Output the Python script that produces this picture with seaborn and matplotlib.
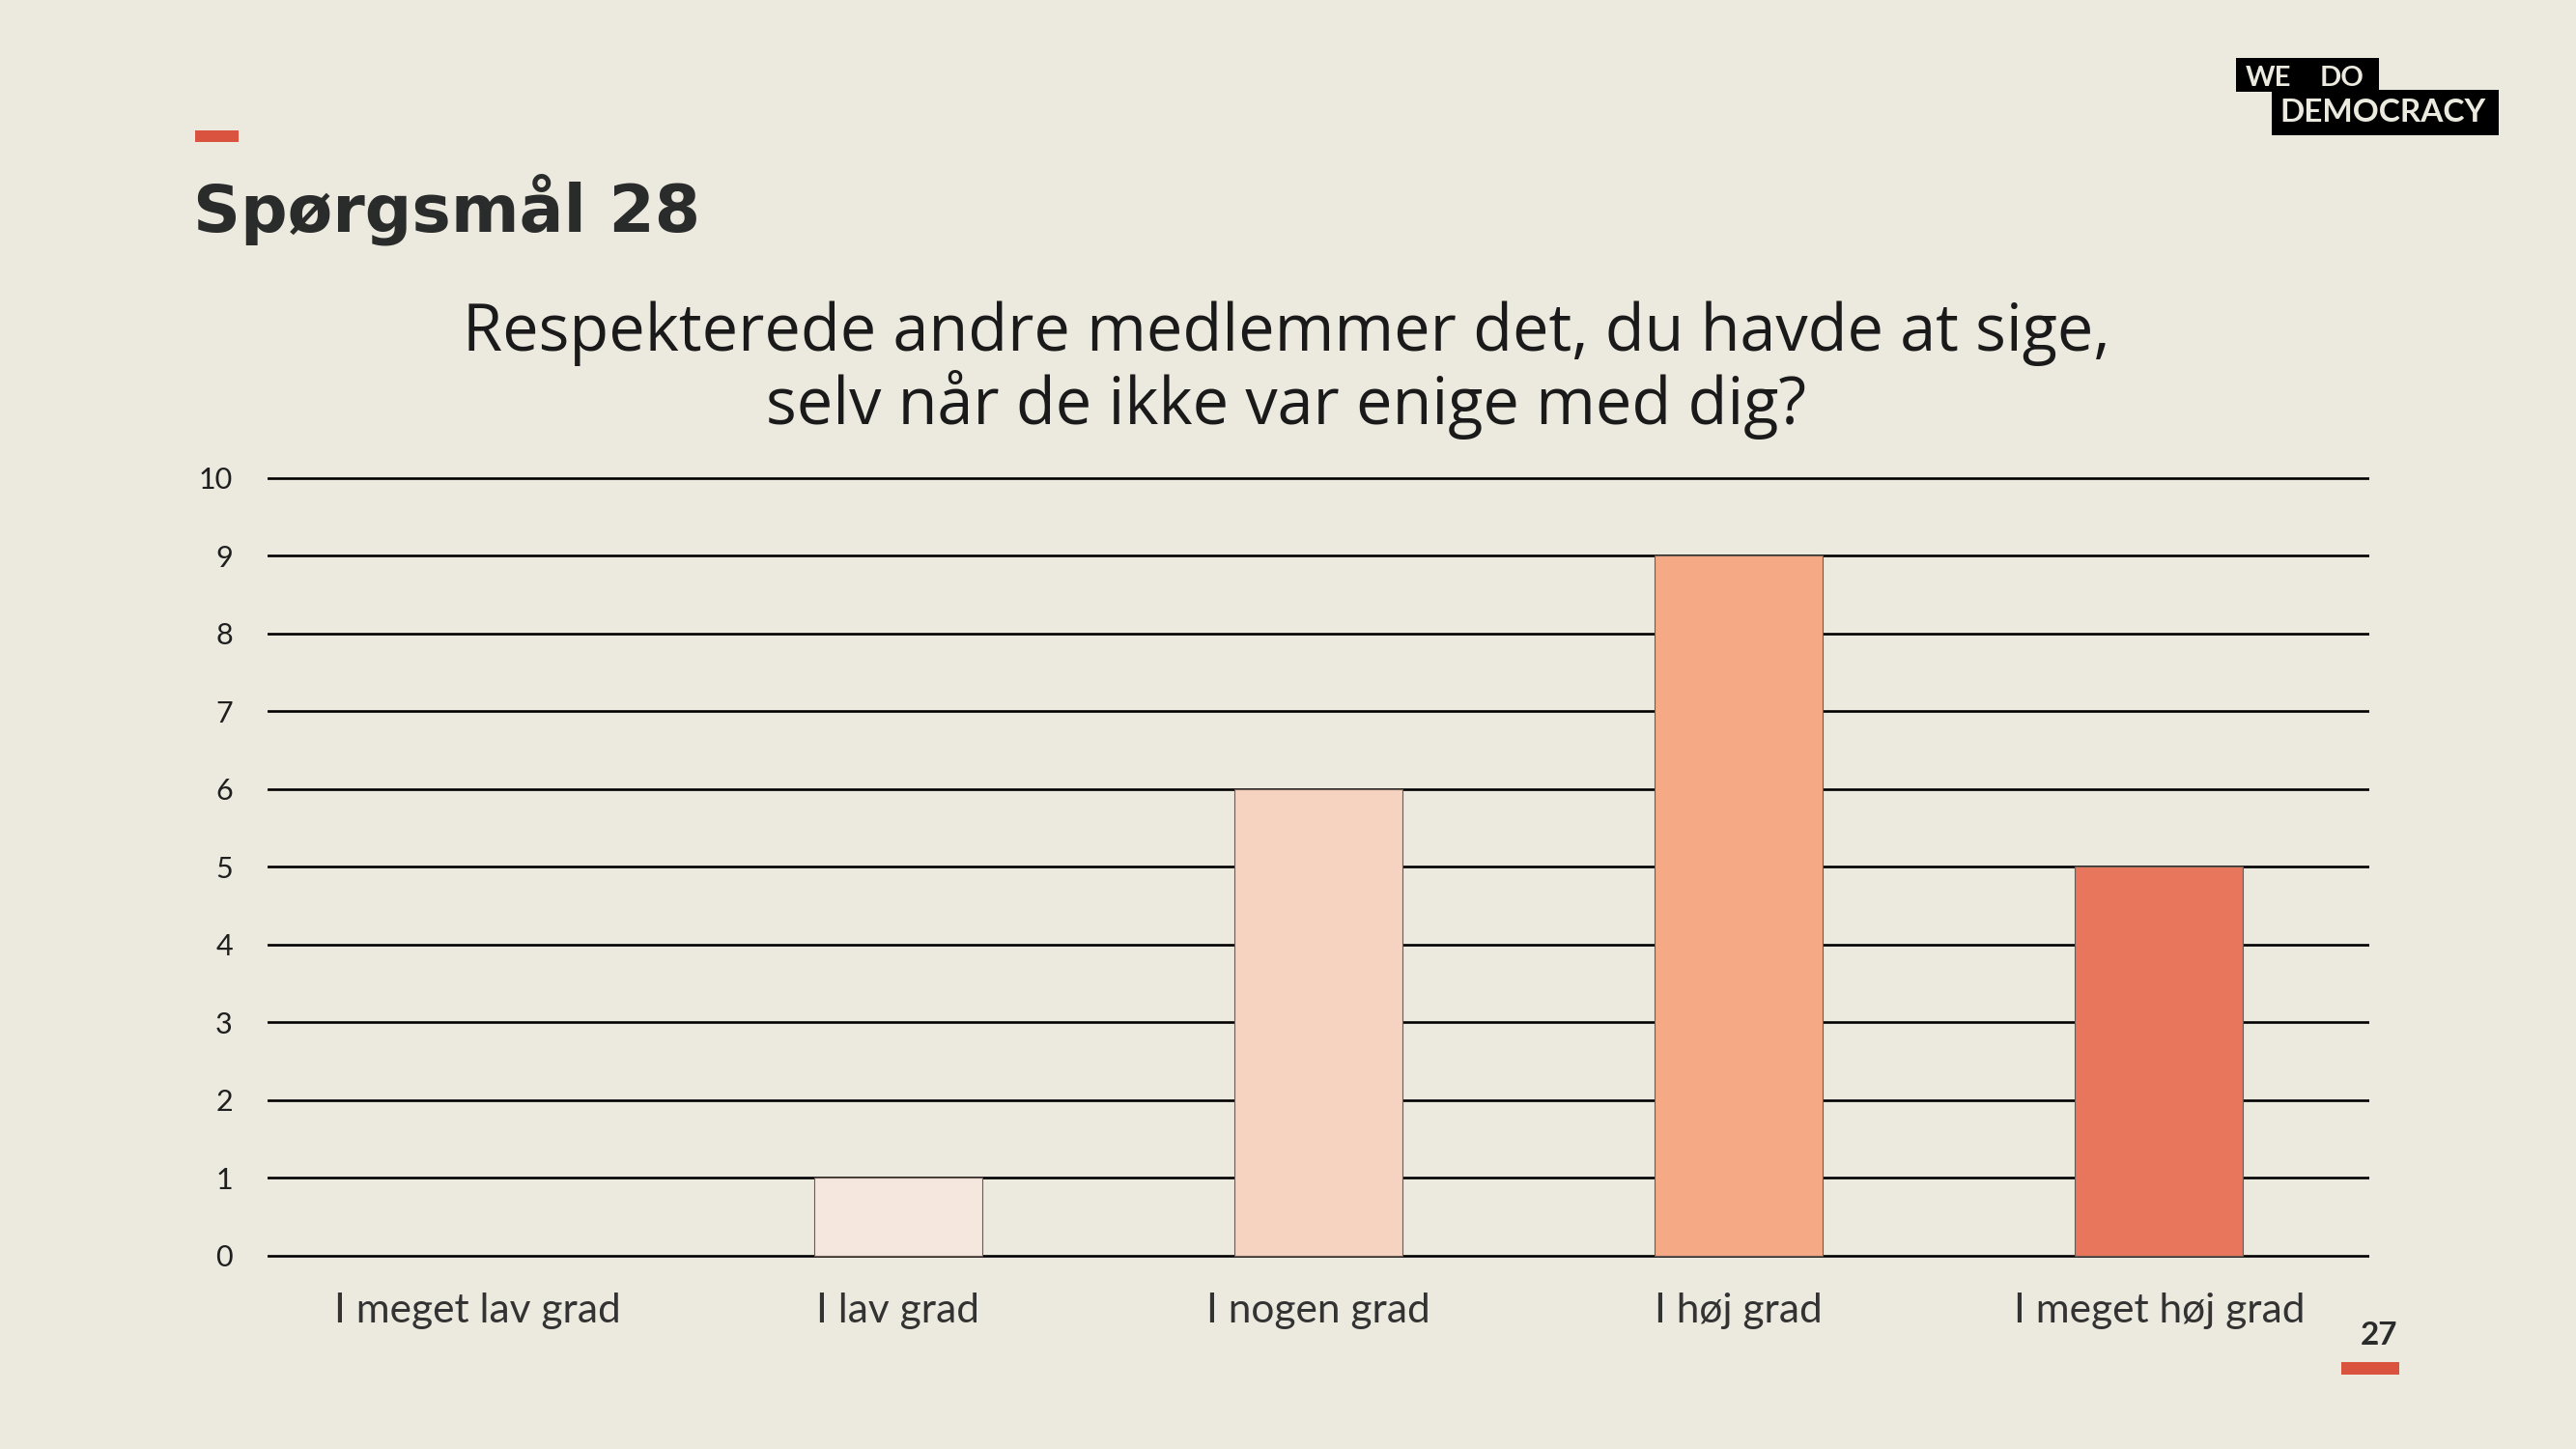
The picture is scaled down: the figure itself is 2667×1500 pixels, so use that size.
import matplotlib
matplotlib.use("Agg")
import matplotlib.pyplot as plt
import seaborn as sns
import pandas as pd
from matplotlib.patches import Rectangle

categories = ["I meget lav grad", "I lav grad", "I nogen grad", "I høj grad", "I meget høj grad"]
counts = [0, 1, 6, 9, 5]
bar_colors = ["#F5E6DE", "#F5E6DE", "#F5D3C0", "#F5A985", "#E8765C"]
yticks = list(range(0, 11))

title = "Spørgsmål 28"
question = "Respekterede andre medlemmer det, du havde at sige,\nselv når de ikke var enige med dig?"
page = "27"

BG = "#ECE9DF"
RED = "#D9533F"
DARK = "#2A2C2C"

sns.set_theme(style="white")
plt.rcParams["font.family"] = ["Lato", "DejaVu Sans"]

W, H, DPI = 2667, 1500, 100
fig = plt.figure(figsize=(W / DPI, H / DPI), dpi=DPI, facecolor=BG)

ymin, ymax = -0.03, 10.03
ppu = (1304.6 - 495.0) / 10.0
bot_px = 1304.6 - (0 - ymin) * ppu
top_px = 495.0 - (ymax - 10) * ppu
ax = fig.add_axes([277 / W, 1 - bot_px / H, (2453 - 277) / W, (bot_px - top_px) / H])
ax.set_facecolor(BG)

df = pd.DataFrame({"cat": categories, "n": counts})
sns.barplot(data=df, x="cat", y="n", hue="cat", palette=bar_colors, legend=False,
            saturation=1, width=0.4, edgecolor="#6B5A52", linewidth=0.8, ax=ax, zorder=3)
for p, v in zip(ax.patches, counts):
    if v == 0:
        p.set_linewidth(0)

ax.set_xlim(-0.5, 4.5)
ax.set_ylim(ymin, ymax)
ax.set_yticks(yticks)
ax.set_yticklabels([str(t) for t in yticks], fontsize=22, color="#1F1F1F")
ax.yaxis.grid(True, color="black", linewidth=1.9, zorder=0)
ax.set_axisbelow(True)
ax.xaxis.grid(False)
for s in ax.spines.values():
    s.set_visible(False)
ax.tick_params(axis="y", length=0, pad=26)
ax.tick_params(axis="x", length=0, pad=26)
for lbl in ax.get_xticklabels():
    lbl.set_fontsize(30.5)
    lbl.set_color("#333333")
ax.set_xlabel("")
ax.set_ylabel("")

# header decorations
fig.patches.append(Rectangle((202 / W, 1 - 147 / H), 45 / W, 12 / H, transform=fig.transFigure,
                             facecolor=RED, edgecolor="none"))
fig.text(200 / W, 1 - 240 / H, title, fontsize=49, fontweight="bold", color=DARK,
         family=["DejaVu Sans"], ha="left", va="baseline")
fig.text(1332 / W, 1 - 383 / H, question, fontsize=48, color="#1A1A1A", ha="center",
         va="center", linespacing=1.08, family=["Open Sans", "DejaVu Sans"])

# logo
fig.patches.append(Rectangle((2315 / W, 1 - 95 / H), (2463 - 2315) / W, (95 - 60) / H,
                             transform=fig.transFigure, facecolor="black", edgecolor="none"))
fig.patches.append(Rectangle((2352 / W, 1 - 140 / H), (2587 - 2352) / W, (140 - 93) / H,
                             transform=fig.transFigure, facecolor="black", edgecolor="none"))
fig.text(2325 / W, 1 - 89 / H, "WE", fontsize=21, fontweight="bold", color=BG, ha="left", va="baseline")
fig.text(2402 / W, 1 - 89 / H, "DO", fontsize=21, fontweight="bold", color=BG, ha="left", va="baseline")
fig.text(2360 / W, 1 - 126 / H, "DEMOCRACY", fontsize=24, fontweight="bold", color=BG,
         ha="left", va="baseline")

# page number
fig.text(2482 / W, 1 - 1392 / H, page, fontsize=24, fontweight="bold", color=DARK,
         ha="right", va="baseline")
fig.patches.append(Rectangle((2424 / W, 1 - 1423 / H), 60 / W, 13 / H, transform=fig.transFigure,
                             facecolor=RED, edgecolor="none"))

fig.savefig("out.png", dpi=DPI, facecolor=BG)
